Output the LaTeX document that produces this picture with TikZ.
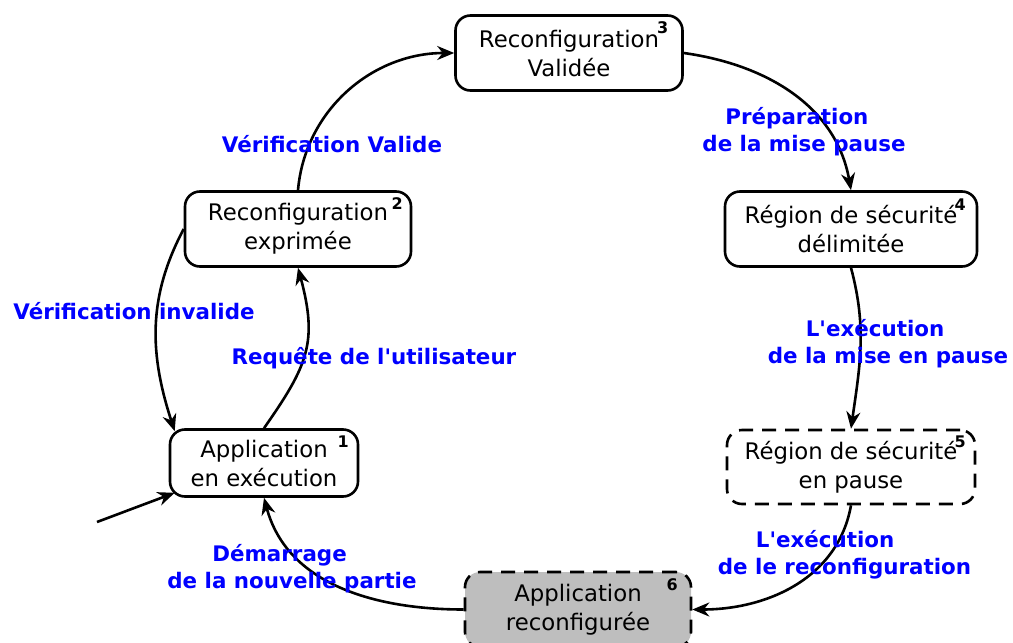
\documentclass[tikz,border=0pt]{standalone}
\usepackage{fontspec}
\setmainfont{DejaVu Sans}[Ligatures=TeXOff]
\usetikzlibrary{arrows.meta}
\definecolor{newgray}{RGB}{190,190,190}

\begin{document}
\begin{tikzpicture}[
    x=0.5pt, y=0.5pt,
    state/.style={rectangle, rounded corners=7.5pt, draw=black, line width=1.3pt, fill=white, minimum width=113pt, minimum height=37.5pt, align=center, inner sep=2pt, font=\fontsize{11.4}{14.5}\selectfont},
    pausedstate/.style={state, dash pattern=on 7pt off 4.5pt},
    newstate/.style={pausedstate, fill=newgray},
    num/.style={font=\bfseries\fontsize{8}{8}\selectfont, inner sep=0pt},
    action/.style={text=blue, align=left, font=\bfseries\fontsize{10.7}{13.5}\selectfont},
    line/.style={draw, line width=1.3pt, -{Stealth[length=8.5pt, width=7pt]}}
]
\useasboundingbox (0,0) rectangle (1013,-643);

% States
\node[state, minimum width=94pt, minimum height=33.5pt] (running) at (264,-463) {Application\\en exécution};
\node[state] (expressed) at (298,-229) {Reconfiguration\\exprimée};
\node[state, minimum width=113.5pt] (validated) at (569,-53) {Reconfiguration\\Validée};
\node[state, minimum width=126pt] (delimited) at (851,-229) {Région de sécurité\\délimitée};
\node[pausedstate, minimum width=124pt, minimum height=37pt] (paused) at (851,-467) {Région de sécurité\\en pause};
\node[newstate] (reconfigured) at (578,-609.5) {Application\\reconfigurée};

% Step numbers
\node[num] (num1) at ([xshift=-8pt, yshift=-6.5pt]running.north east) {1};
\node[num] (num2) at ([xshift=-7.5pt, yshift=-6.5pt]expressed.north east) {2};
\node[num] (num3) at ([xshift=-10.5pt, yshift=-6.5pt]validated.north east) {3};
\node[num] (num4) at ([xshift=-9pt, yshift=-7pt]delimited.north east) {4};
\node[num] (num5) at ([xshift=-8pt, yshift=-6.5pt]paused.north east) {5};
\node[num] (num6) at ([xshift=-10pt, yshift=-7pt]reconfigured.north east) {6};

% Transitions
\coordinate (entry) at (97,-522);
\path [line] (entry) -- ([xshift=3pt, yshift=2.5pt]running.south west);
\path [line] (running.north) to[out=55, in=-75, looseness=1.2] (expressed.south);
\path [line] (expressed.west) to[out=-118, in=108] ([xshift=3pt, yshift=-1.5pt]running.north west);
\path [line] (expressed.north) to[out=85, in=180] (validated.west);
\path [line] (validated.east) to[out=-8, in=100] (delimited.north);
\path [line] (delimited.south) to[out=-75, in=82] (paused.north);
\path [line] (paused.south) to[out=-100, in=0] (reconfigured.east);
\path [line] (reconfigured.west) to[out=180, in=-75] (running.south);

% Labels
\node[action] (valid) at (332,-144) {Vérification Valide};
\node[action] (prepare) at (804,-132) {\hspace*{11.5pt}Préparation\\de la mise pause};
\node[action] (invalid) at (134,-311) {Vérification invalide};
\node[action] (request) at (374,-358) {Requête de l'utilisateur};
\node[action] (execpause) at (888,-344) {\hspace*{19pt}L'exécution\\de la mise en pause};
\node[action] (execreconf) at (844.5,-555) {\hspace*{19pt}L'exécution\\de le reconfiguration};
\node[action] (restart) at (292,-569) {\hspace*{22.5pt}Démarrage\\de la nouvelle partie};

\end{tikzpicture}
\end{document}
